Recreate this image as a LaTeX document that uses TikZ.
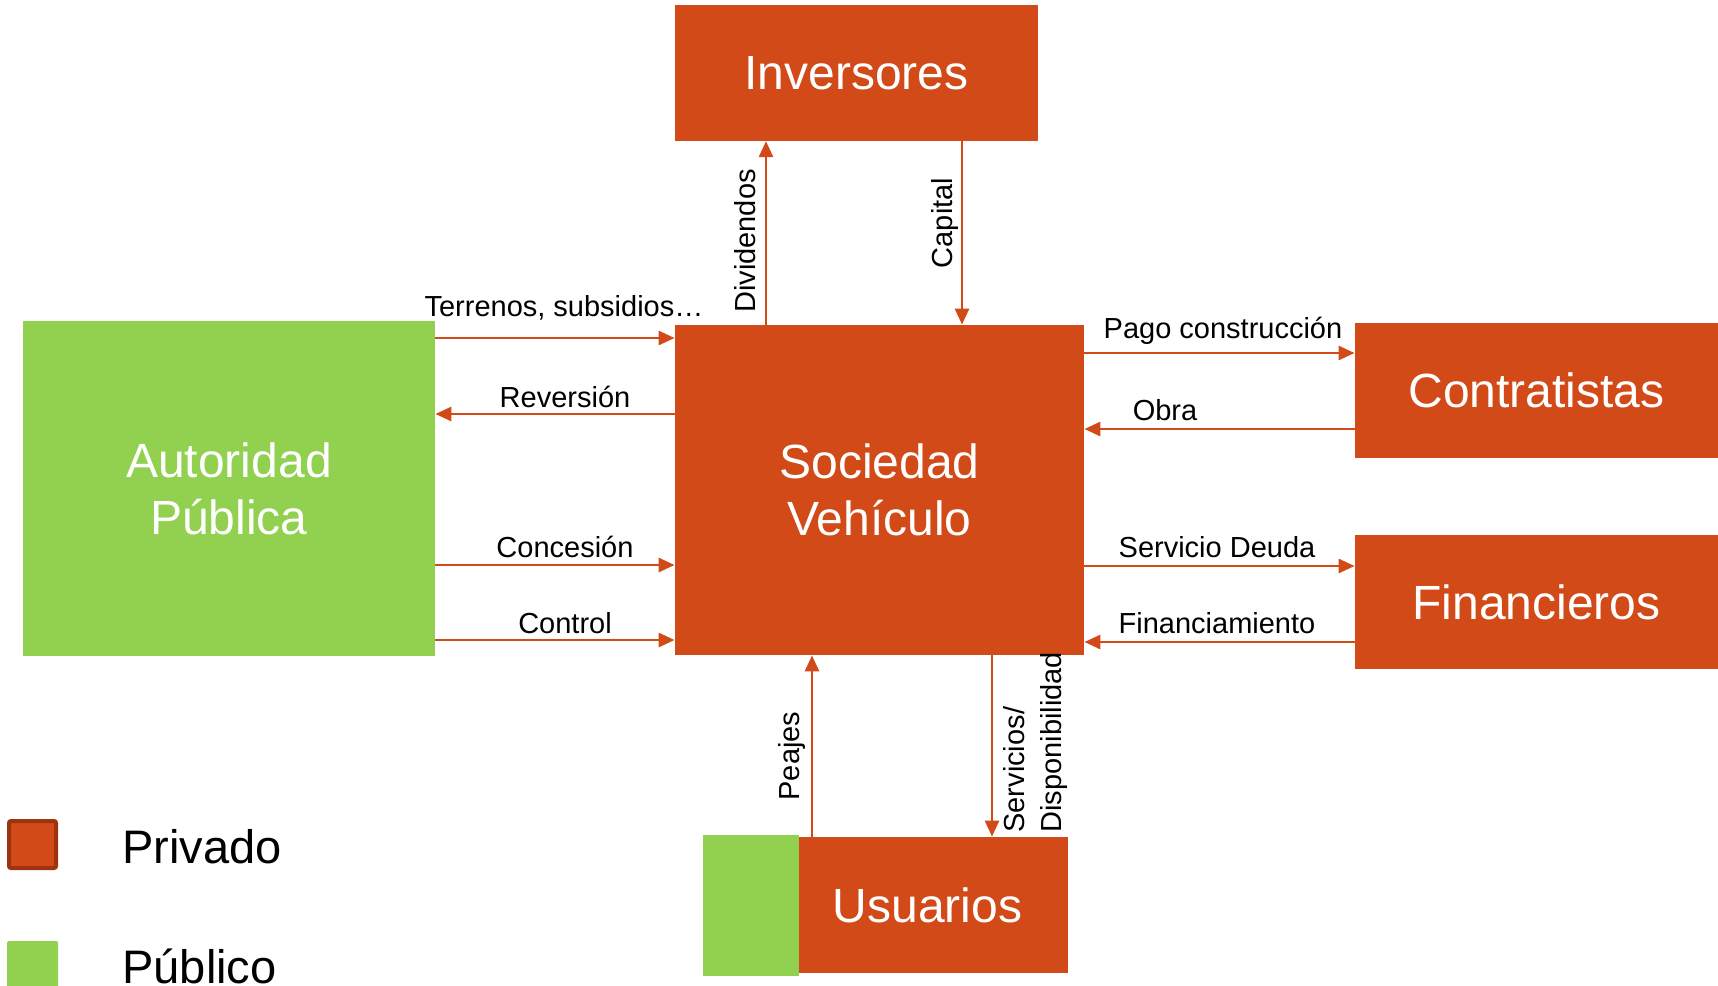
\documentclass[tikz,border=0pt]{standalone}
\usepackage{fontspec}
\setmainfont{Liberation Sans}
\usetikzlibrary{arrows.meta}
\definecolor{priv}{RGB}{210,74,24}
\definecolor{privdark}{RGB}{158,51,16}
\definecolor{pub}{RGB}{146,208,80}
\tikzset{
  box/.style={draw=none, inner sep=0pt, text=white, align=center,
    font=\fontsize{24}{28.5}\selectfont},
  privbox/.style={box, fill=priv},
  pubbox/.style={box, fill=pub},
  flow/.style={draw=priv, line width=1.4pt, -{Triangle[length=8pt,width=7pt]}},
  lbl/.style={inner sep=0pt, font=\fontsize{14.5}{17}\selectfont, text=black},
  legtext/.style={inner sep=0pt, font=\fontsize{23.5}{28}\selectfont, text=black, anchor=base west}
}
\begin{document}
\begin{tikzpicture}[x=0.5pt, y=-0.5pt]
\useasboundingbox (0,0) rectangle (1718,985);

% boxes
\node[privbox, minimum width=181.5pt, minimum height=67.75pt] (inv) at (856.5,73) {\raisebox{-1pt}{Inversores}};
\node[privbox, minimum width=204.5pt, minimum height=165pt] (sv) at (879.5,490) {Sociedad\\Vehículo};
\node[pubbox, minimum width=206pt, minimum height=167.5pt] (aut) at (229,488.5) {Autoridad\\Pública};
\node[privbox, minimum width=181.5pt, minimum height=67.5pt] (con) at (1536.5,390.5) {\raisebox{-1pt}{Contratistas}};
\node[privbox, minimum width=181.5pt, minimum height=67pt] (fin) at (1536.5,602) {\raisebox{-1pt}{Financieros}};
\node[pubbox, minimum width=48pt, minimum height=70.5pt] (usug) at (751,905.5) {};
\node[privbox, minimum width=134.5pt, minimum height=68pt] (usu) at (933.5,905) {\hspace*{-6pt}\raisebox{-1pt}{Usuarios}};

% helper coordinates
\coordinate (yT) at (0,338);
\coordinate (yR) at (0,414);
\coordinate (yC) at (0,565);
\coordinate (yK) at (0,640);
\coordinate (yP) at (0,353);
\coordinate (yO) at (0,429);
\coordinate (yS) at (0,566);
\coordinate (yF) at (0,642);
\coordinate (xD) at (766,0);
\coordinate (xC) at (962,0);
\coordinate (xP) at (812,0);
\coordinate (xS) at (992,0);

% left arrows
\draw[flow] (aut.east |- yT) -- (sv.west |- yT);
\draw[flow] (sv.west |- yR) -- (aut.east |- yR);
\draw[flow] (aut.east |- yC) -- (sv.west |- yC);
\draw[flow] (aut.east |- yK) -- (sv.west |- yK);
% right arrows
\draw[flow] (sv.east |- yP) -- (con.west |- yP);
\draw[flow] (con.west |- yO) -- (sv.east |- yO);
\draw[flow] (sv.east |- yS) -- (fin.west |- yS);
\draw[flow] (fin.west |- yF) -- (sv.east |- yF);
% vertical arrows
\draw[flow] (sv.north -| xD) -- (inv.south -| xD);
\draw[flow] (inv.south -| xC) -- (sv.north -| xC);
\draw[flow] (usu.north -| xP) -- (sv.south -| xP);
\draw[flow] (sv.south -| xS) -- (usu.north -| xS);

% labels
\node[lbl, anchor=base] (lT) at (564,316) {Terrenos, subsidios…};
\node[lbl, anchor=base] (lR) at (565,407) {Reversión};
\node[lbl, anchor=base] (lC) at (565,557) {Concesión};
\node[lbl, anchor=base] (lK) at (565,633) {Control};
\node[lbl, anchor=base] (lP) at (1223,338) {Pago construcción};
\node[lbl, anchor=base] (lO) at (1165,420) {Obra};
\node[lbl, anchor=base] (lS) at (1217,557) {Servicio Deuda};
\node[lbl, anchor=base] (lF) at (1217,633) {Financiamiento};
\node[lbl, anchor=base, rotate=90] (lD) at (755,241) {Dividendos};
\node[lbl, anchor=base, rotate=90] (lCap) at (952,223) {Capital};
\node[lbl, anchor=base, rotate=90] (lPe) at (799,756) {Peajes};
\node[lbl, anchor=base west, rotate=90] (lS1) at (1024,833) {Servicios/};
\node[lbl, anchor=base west, rotate=90] (lS2) at (1061,833) {Disponibilidad};

% legend
\draw[fill=priv, draw=privdark, line width=2pt, rounded corners=1pt] (9,821) rectangle (56,868);
\fill[pub, rounded corners=1pt] (7,941) rectangle (58,995);
\node[legtext] (lpriv) at (122,863) {Privado};
\node[legtext] (lpub) at (122,983) {Público};
\end{tikzpicture}
\end{document}
